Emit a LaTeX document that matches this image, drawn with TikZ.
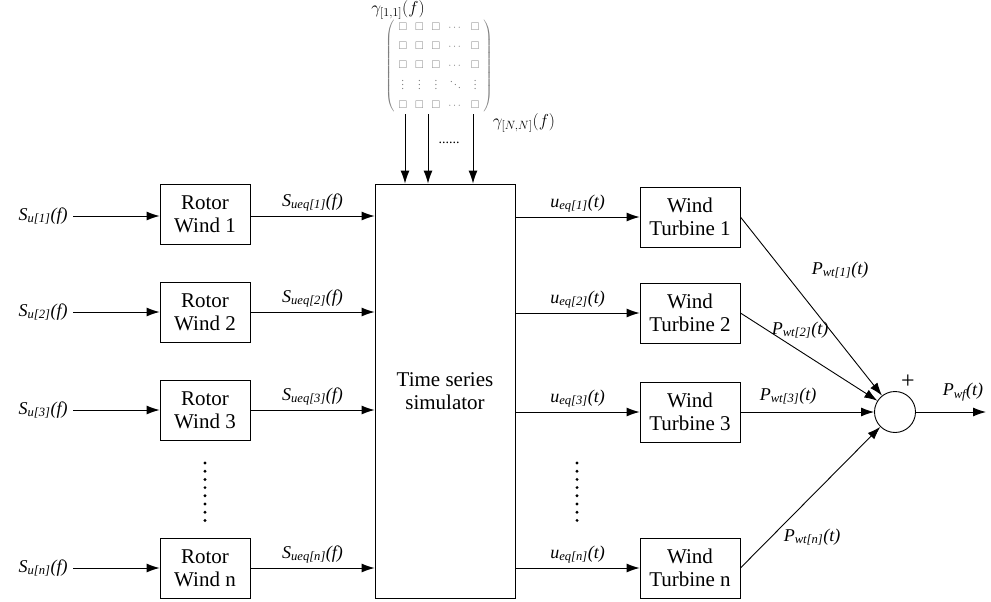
\documentclass[tikz,border=0pt]{standalone}
\usepackage{amsmath}
\usepackage{amssymb}
\usepackage{fontspec}
\setmainfont{Liberation Serif}
\usetikzlibrary{arrows.meta}
\tikzset{every picture/.style={line width=0.9pt}}
\tikzset{
blk/.style={draw, minimum width=90pt, minimum height=60pt, align=center, inner sep=0pt, font=\rmfamily\fontsize{21}{23}\selectfont},
arr/.style={-{Latex[length=13pt,width=9pt]}},
lbl/.style={inner sep=1pt, font=\rmfamily\fontsize{18}{20}\selectfont\itshape},
dotrow/.style={fill=black}}
\newcommand{\sig}[3]{#1\textsubscript{#2}(#3)}

\begin{document}
\begin{tikzpicture}[x=1pt,y=1pt,yscale=-1,xscale=1]
\useasboundingbox (0,0) rectangle (991,602);

%Shape: Rectangle [simulator]
\node[blk, minimum width=140pt, minimum height=414pt] (sim) at (445,391) {Time series\\simulator};

%Shape: Rectangle [rotor wind]
\node[blk] (rw1) at (205,214) {Rotor\\Wind 1};
\node[blk] (rw2) at (205,312) {Rotor\\Wind 2};
\node[blk] (rw3) at (205,410) {Rotor\\Wind 3};
\node[blk] (rwn) at (205,568) {Rotor\\Wind n};

%Shape: Rectangle [wind turbine]
\node[blk, minimum width=100pt] (wt1) at (690,217) {Wind\\Turbine 1};
\node[blk, minimum width=100pt] (wt2) at (690,313) {Wind\\Turbine 2};
\node[blk, minimum width=100pt] (wt3) at (690,412) {Wind\\Turbine 3};
\node[blk, minimum width=100pt] (wtn) at (690,568) {Wind\\Turbine n};

%Shape: Circle [sum]
\node[draw, circle, minimum size=41pt, inner sep=0pt] (sum) at (895,412) {};
\node[inner sep=0pt, font=\fontsize{24}{24}\selectfont] (plus) at (908,382) {+};

% Text Node [inputs]
\node[lbl, anchor=east, inner sep=5pt] (su1) at (73,216) {\sig{S}{u[1]}{f}};
\node[lbl, anchor=east, inner sep=5pt] (su2) at (73,312) {\sig{S}{u[2]}{f}};
\node[lbl, anchor=east, inner sep=5pt] (su3) at (73,410) {\sig{S}{u[3]}{f}};
\node[lbl, anchor=east, inner sep=5pt] (sun) at (73,568) {\sig{S}{u[n]}{f}};

%Straight Lines [inputs]
\draw[arr] (su1.east) -- (rw1.west |- su1.east);
\draw[arr] (su2.east) -- (rw2.west |- su2.east);
\draw[arr] (su3.east) -- (rw3.west |- su3.east);
\draw[arr] (sun.east) -- (rwn.west |- sun.east);

%Straight Lines [rotor to simulator]
\draw[arr] (rw1.east |- su1.east) -- node[lbl, above=3pt] (se1) {\sig{S}{ueq[1]}{f}} (sim.west |- su1.east);
\draw[arr] (rw2.east |- su2.east) -- node[lbl, above=3pt] (se2) {\sig{S}{ueq[2]}{f}} (sim.west |- su2.east);
\draw[arr] (rw3.east |- su3.east) -- node[lbl, above=3pt] (se3) {\sig{S}{ueq[3]}{f}} (sim.west |- su3.east);
\draw[arr] (rwn.east |- sun.east) -- node[lbl, above=3pt] (sen) {\sig{S}{ueq[n]}{f}} (sim.west |- sun.east);

%Straight Lines [simulator to turbines]
\draw[arr] (sim.east |- wt1.west) -- node[lbl, above=3pt] (ue1) {\sig{u}{eq[1]}{t}} (wt1.west);
\draw[arr] (sim.east |- wt2.west) -- node[lbl, above=3pt] (ue2) {\sig{u}{eq[2]}{t}} (wt2.west);
\draw[arr] (sim.east |- wt3.west) -- node[lbl, above=3pt] (ue3) {\sig{u}{eq[3]}{t}} (wt3.west);
\draw[arr] (sim.east |- wtn.west) -- node[lbl, above=3pt] (uen) {\sig{u}{eq[n]}{t}} (wtn.west);

%Straight Lines [turbines to sum]
\draw[arr] (wt1.east) -- (sum);
\draw[arr] (wt2.east) -- (sum);
\draw[arr] (wt3.east) -- (sum);
\draw[arr] (wtn.east) -- (sum);
\coordinate (out) at (986,412);
\draw[arr] (sum.east) -- (out);

% Text Node [powers]
\node[lbl] (pw1) at (840,270) {\sig{P}{wt[1]}{t}};
\node[lbl] (pw2) at (800,330) {\sig{P}{wt[2]}{t}};
\node[lbl] (pw3) at (788,396) {\sig{P}{wt[3]}{t}};
\node[lbl] (pwn) at (812,537) {\sig{P}{wt[n]}{t}};
\node[lbl] (pwf) at (963,392) {\sig{P}{wf}{t}};

%Shape: Dots [vertical]
\foreach \k in {0,...,7} {
  \fill[dotrow] (205,463+8.2*\k) circle (1.6pt);
  \fill[dotrow] (577,463+8.2*\k) circle (1.6pt);
}

% Text Node [coherence matrix]
\node[text=black!50, inner sep=0pt] (gmat) at (439,66) {\fontsize{11}{10}\selectfont$\setlength{\arraycolsep}{4pt}\renewcommand{\arraystretch}{1.9}\left(\begin{array}{ccccc}
\square&\square&\square&\cdots&\square\\
\square&\square&\square&\cdots&\square\\
\square&\square&\square&\cdots&\square\\
\vdots&\vdots&\vdots&\ddots&\vdots\\
\square&\square&\square&\cdots&\square
\end{array}\right)$};
\node[inner sep=0pt, font=\fontsize{18}{20}\selectfont] (g11) at (398,10) {$\gamma_{[1,1]}(f)$};
\node[inner sep=0pt, font=\fontsize{18}{20}\selectfont] (gNN) at (524,123) {$\gamma_{[N,N]}(f)$};

%Straight Lines [coherence inputs]
\coordinate (c1) at (405,114);
\coordinate (c2) at (428,114);
\coordinate (c3) at (473,114);
\draw[arr] (c1) -- (c1 |- sim.north);
\draw[arr] (c2) -- (c2 |- sim.north);
\draw[arr] (c3) -- (c3 |- sim.north);
\node[inner sep=0pt, font=\fontsize{14}{14}\selectfont] (cdots) at (449,143) {......};

\end{tikzpicture}
\end{document}
